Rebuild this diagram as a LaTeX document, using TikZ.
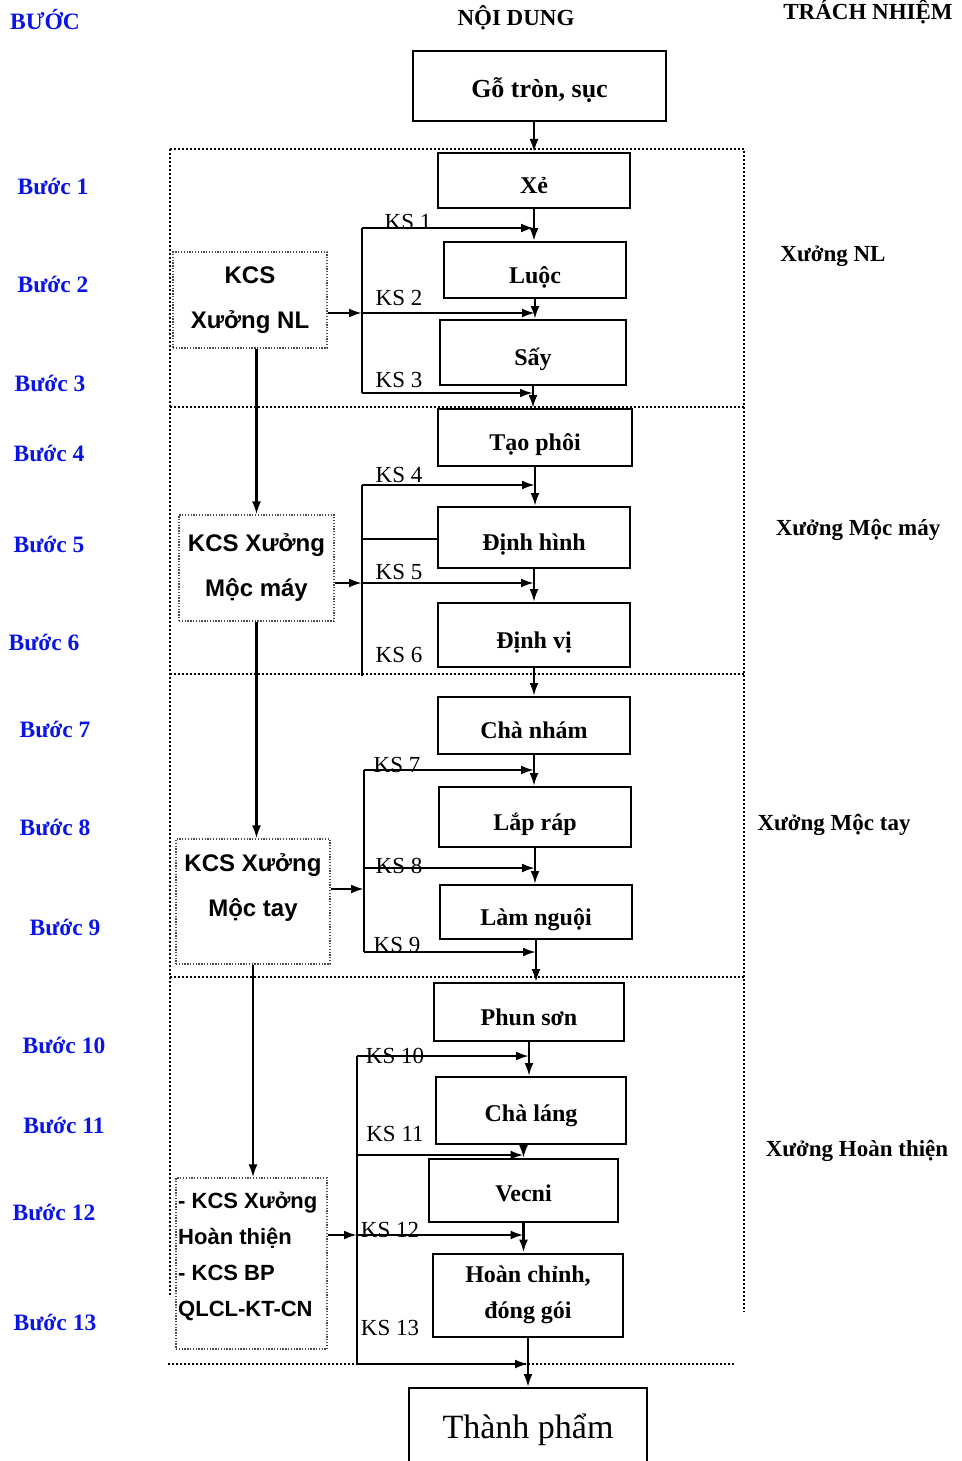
\documentclass[tikz,border=0pt]{standalone}
\usepackage{fontspec}
\setmainfont{Liberation Serif}
\setsansfont{Liberation Sans}
\usetikzlibrary{arrows.meta,calc}
\definecolor{stepblue}{HTML}{0A14E6}
\tikzset{
  bx/.style={draw,line width=2pt,inner sep=0pt,text height=26pt,text depth=0pt,font=\bfseries\fontsize{24}{28}\selectfont},
  kcs/.style={draw=gray!60!black,line width=1.1pt,dash pattern=on 1.3pt off 1.5pt,inner sep=0pt},
  kt/.style={font=\sffamily\bfseries\fontsize{24}{45}\selectfont,align=center,inner sep=0pt},
  ar/.style={-{Latex[length=13pt,width=9pt]},line width=2.4pt},
  ln/.style={line width=2.4pt},
  zone/.style={line width=2.2pt,dash pattern=on 2pt off 2pt},
  st/.style={text=stepblue,font=\bfseries\fontsize{23.5}{27}\selectfont,inner sep=0pt},
  rs/.style={font=\bfseries\fontsize{23}{27}\selectfont,inner sep=0pt},
  ks/.style={font=\fontsize{23}{27}\selectfont,inner sep=0pt}
}
\begin{document}
\begin{tikzpicture}[x=1pt,y=-1pt]
\useasboundingbox (0,0) rectangle (961,1461);
% headers
\node[st] (hBuoc) at (45,20) {BƯỚC};
\node[rs] (hNoiDung) at (516,18) {NỘI DUNG};
\node[rs] (hTrach) at (868,12) {TRÁCH NHIỆM};

% dotted zones
\draw[zone] (170,149) -- (744,149) -- (744,1312);
\draw[zone] (170,149) -- (170,1297);
\foreach \yy in {407,674,977} {\draw[zone] (170,\yy) -- (744,\yy);}
\draw[zone] (168,1364) -- (735,1364);

% steps
\foreach \n/\xx/\yy in {1/53/186,2/53/284,3/50/383,4/49/453,5/49/544,6/44/642,7/55/729,
  8/55/827,9/65/927,10/64/1045,11/64/1125,12/54/1212,13/55/1322}
  {\node[st] (b\n) at (\xx,\yy) {Bước \n};}

% responsibility
\node[rs] (rNL) at (833,256) {Xưởng NL};
\node[rs] (rMM) at (858,530) {Xưởng Mộc máy};
\node[rs] (rMT) at (834,825) {Xưởng Mộc tay};
\node[rs] (rHT) at (857,1151) {Xưởng Hoàn thiện};

% process boxes
\node[bx,minimum width=253pt,minimum height=70pt,text height=24pt,font=\bfseries\fontsize{26}{30}\selectfont] (goTron) at (539.5,86) {Gỗ tròn, sục};
\node[bx,minimum width=192pt,minimum height=55pt] (xe) at (534,180.5) {Xẻ};
\node[bx,minimum width=182pt,minimum height=56pt] (luoc) at (535,270) {Luộc};
\node[bx,minimum width=186pt,minimum height=65pt] (say) at (533,352.5) {Sấy};
\node[bx,minimum width=194pt,minimum height=57pt] (taoPhoi) at (535,437.5) {Tạo phôi};
\node[bx,minimum width=192pt,minimum height=61pt] (dinhHinh) at (534,537.5) {Định hình};
\node[bx,minimum width=192pt,minimum height=64pt] (dinhVi) at (534,635) {Định vị};
\node[bx,minimum width=192pt,minimum height=57pt] (chaNham) at (534,725.5) {Chà nhám};
\node[bx,minimum width=192pt,minimum height=60pt] (lapRap) at (535,817) {Lắp ráp};
\node[bx,minimum width=192pt,minimum height=54pt] (lamNguoi) at (536,912) {Làm nguội};
\node[bx,minimum width=190pt,minimum height=58pt] (phunSon) at (529,1012) {Phun sơn};
\node[bx,minimum width=190pt,minimum height=67pt,text height=22pt] (chaLang) at (531,1110.5) {Chà láng};
\node[bx,minimum width=189pt,minimum height=63pt,text height=22pt] (vecni) at (523.5,1190.5) {Vecni};
\node[bx,minimum width=190pt,minimum height=83pt,text height=,text depth=,align=center,font=\bfseries\fontsize{24}{36}\selectfont] (hoanChinh) at (528,1295) {Hoàn chỉnh,\\đóng gói};
\node[draw,line width=2pt,inner sep=0pt,minimum width=238pt,minimum height=84pt,font=\fontsize{34}{40}\selectfont] (thanhPham) at (528,1430) {Thành phẩm};

% KCS boxes
\node[kcs,kt,minimum width=154pt,minimum height=96pt] (kcsNL) at (250,300) {KCS\\Xưởng NL};
\node[kcs,kt,minimum width=155pt,minimum height=106pt] (kcsMM) at (256.5,568) {KCS Xưởng\\Mộc máy};
\node[kcs,minimum width=154pt,minimum height=125pt] (kcsMT) at (253,901.5) {};
\node[kt] (kcsMTtxt) at (253,888) {KCS Xưởng\\Mộc tay};
\node[kcs,minimum width=151pt,minimum height=171pt] (kcsHT) at (251.5,1263.5) {};
\node[kt,align=left,anchor=north west,font=\sffamily\bfseries\fontsize{22}{36}\selectfont] (kcsHTtxt) at (178,1192) {- KCS Xưởng\\Hoàn thiện\\- KCS BP\\QLCL-KT-CN};

% KCS chain
\draw[ar] (kcsMM.north |- kcsNL.south) -- (kcsMM.north);
\draw[ar] (kcsMM.south) -- (kcsMM.south |- kcsMT.north);
\draw[ar] (kcsMT.south) -- (kcsMT.south |- kcsHT.north);

% main flow
\draw[ar] (xe.north |- goTron.south) -- (xe.north);
\draw[ar] (xe.south) -- (xe.south |- luoc.north);
\draw[ar] (luoc.south) -- (luoc.south |- say.north);
\draw[ar] (say.south) -- (say.south |- taoPhoi.north);
\draw[ar] (taoPhoi.south) -- (taoPhoi.south |- dinhHinh.north);
\draw[ar] (dinhHinh.south) -- (dinhHinh.south |- dinhVi.north);
\draw[ar] (dinhVi.south) -- (dinhVi.south |- chaNham.north);
\draw[ar] (chaNham.south) -- (chaNham.south |- lapRap.north);
\draw[ar] (lapRap.south) -- (lapRap.south |- lamNguoi.north);
\draw[ar] (lamNguoi.south) -- (lamNguoi.south |- phunSon.north);
\draw[ar] (phunSon.south) -- (phunSon.south |- chaLang.north);
\draw[ar] (vecni.north |- chaLang.south) -- (vecni.north);
\draw[ar] (vecni.south) -- (vecni.south |- hoanChinh.north);
\draw[ar] (hoanChinh.south) -- (hoanChinh.south |- thanhPham.north);

% control bus, Xuong NL
\coordinate (c1) at (362,228);
\coordinate (c2) at (362,313);
\coordinate (c3) at (362,393);
\draw[ln] (c1) -- (c3);
\draw[ar] (c1) -- (c1 -| xe.south);
\draw[ar] (c2) -- (c2 -| luoc.south);
\draw[ar] (c3) -- (c3 -| say.south);
\draw[ar] (kcsNL.east |- c2) -- (c2);

% control bus, Moc may
\coordinate (c4) at (362,485);
\coordinate (c45) at (362,539);
\coordinate (c5) at (362,583);
\coordinate (c6) at (362,676);
\draw[ln] (c4) -- (c6);
\draw[ar] (c4) -- (c4 -| taoPhoi.south);
\draw[ln] (c45) -- (dinhHinh.west |- c45);
\draw[ar] (c5) -- (c5 -| dinhHinh.south);
\draw[ar] (kcsMM.east |- c5) -- (c5);

% control bus, Moc tay
\coordinate (c7) at (364,770);
\coordinate (c8) at (364,868);
\coordinate (c89) at (364,889);
\coordinate (c9) at (364,952);
\draw[ln] (c7) -- (c9);
\draw[ar] (c7) -- (c7 -| chaNham.south);
\draw[ar] (c8) -- (c8 -| lapRap.south);
\draw[ar] (c9) -- (c9 -| lamNguoi.south);
\draw[ar] (kcsMT.east |- c89) -- (c89);

% control bus, Hoan thien
\coordinate (c10) at (357,1056);
\coordinate (c11) at (357,1155);
\coordinate (c12) at (357,1235);
\coordinate (c13) at (357,1364);
\draw[ln] (c10) -- (c13);
\draw[ar] (c10) -- (c10 -| phunSon.south);
\draw[ar] (c11) -- (c11 -| vecni.north);
\draw[ar] (c12) -- (c12 -| vecni.south);
\draw[ar] (c13) -- (c13 -| hoanChinh.south);
\draw[ar] (kcsHT.east |- c12) -- (c12);

% KS labels
\foreach \n/\xx/\yy in {1/408/222,2/399/298,3/399/380,4/399/475,5/399/572,6/399/655,7/397/765,
  8/399/866,9/397/945,10/395/1056,11/395/1134,12/390/1230,13/390/1328}
  {\node[ks] (ks\n) at (\xx,\yy) {KS \n};}
\end{tikzpicture}
\end{document}
